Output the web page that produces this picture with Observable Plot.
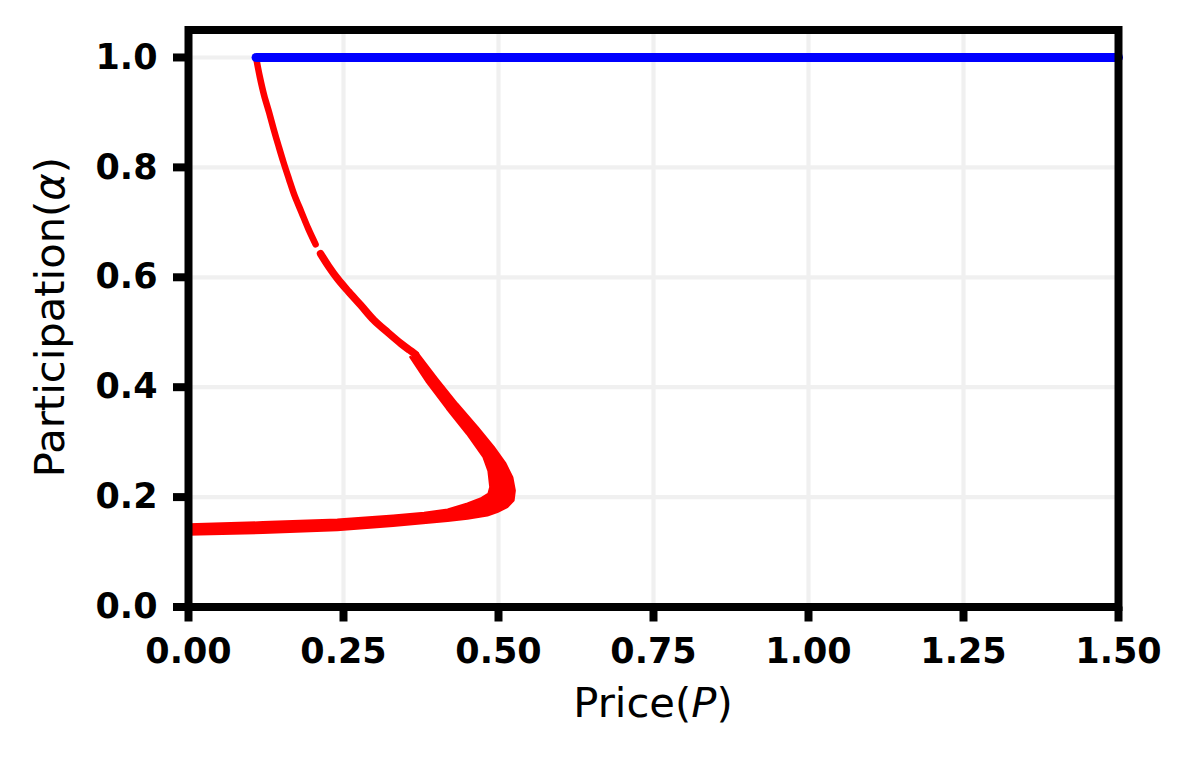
<!DOCTYPE html>
<html><head><meta charset="utf-8">
<script src="https://cdn.jsdelivr.net/npm/d3@7"></script>
<script src="https://cdn.jsdelivr.net/npm/@observablehq/plot@0.6"></script>
<style>
html,body{margin:0;padding:0;background:#fff;}
svg text{font-family:"DejaVu Sans",sans-serif;}
g[aria-label="x-axis tick label"] text, g[aria-label="y-axis tick label"] text{font-weight:bold;}
</style></head><body><div id="chart"></div>
<script>
// ---- data ----
const xTicks = [0, 0.25, 0.5, 0.75, 1.0, 1.25, 1.5];
const yTicks = [0, 0.2, 0.4, 0.6, 0.8, 1.0];
const xLabelParts = [["Price(", false], ["P", true], [")", false]];
const yLabelParts = [["Participation(", false], ["α", true], [")", false]];

// red branch, upper thin part (before the small gap)
const redTopX = [0.109, 0.115, 0.122, 0.130, 0.137, 0.145, 0.153, 0.162, 0.171, 0.182, 0.193, 0.205];
const redTopY = [1.000, 0.965, 0.931, 0.900, 0.871, 0.840, 0.810, 0.779, 0.749, 0.719, 0.689, 0.660];
// red branch, after the gap down to the kink
const redMidX = [0.213, 0.226, 0.240, 0.258, 0.278, 0.299, 0.322, 0.343, 0.356, 0.366];
const redMidY = [0.643, 0.620, 0.598, 0.574, 0.549, 0.522, 0.499, 0.479, 0.468, 0.460];
// red thick band: outer edge (kink -> nose -> lower edge of bottom branch)
const bandOuterX = [0.369, 0.401, 0.433, 0.466, 0.492, 0.511, 0.522, 0.526, 0.524, 0.514, 0.498, 0.482, 0.450, 0.418, 0.330, 0.240, 0.120, 0.000];
const bandOuterY = [0.462, 0.415, 0.370, 0.327, 0.291, 0.261, 0.236, 0.212, 0.194, 0.182, 0.173, 0.167, 0.161, 0.157, 0.148, 0.140, 0.135, 0.132];
// red thick band: inner edge (kink -> inner nose -> upper edge of bottom branch)
const bandInnerX = [0.358, 0.385, 0.417, 0.4495, 0.476, 0.484, 0.487, 0.484, 0.471, 0.450, 0.418, 0.380, 0.330, 0.240, 0.120, 0.000];
const bandInnerY = [0.455, 0.409, 0.361, 0.315, 0.273, 0.248, 0.218, 0.206, 0.197, 0.188, 0.177, 0.171, 0.166, 0.159, 0.154, 0.150];
// blue branch (full participation)
const blueX = [0.109, 1.5];
const blueY = [1.0, 1.0];

// ---- build tables ----
const pts = (xs, ys) => xs.map((x, i) => ({x, y: ys[i]}));
const redTop = pts(redTopX, redTopY);
const redMid = pts(redMidX, redMidY);
const band = pts(bandOuterX, bandOuterY).concat(pts(bandInnerX, bandInnerY).reverse());
const blue = pts(blueX, blueY);

const svg = Plot.plot({
  width: 1194,
  height: 761,
  marginLeft: 188,
  marginRight: 76,
  marginTop: 29.5,
  marginBottom: 154.5,
  style: {background: "white", color: "black", fontFamily: "DejaVu Sans"},
  x: {domain: [0, 1.5]},
  y: {domain: [0, 1.05]},
  marks: [
    Plot.gridX(xTicks, {stroke: "#f0f0f0", strokeOpacity: 1, strokeWidth: 4.2}),
    Plot.gridY(yTicks, {stroke: "#f0f0f0", strokeOpacity: 1, strokeWidth: 4.2}),
    Plot.line(band, {x: "x", y: "y", fill: "#ff0000", stroke: "#ff0000", strokeWidth: 2.5, strokeLinejoin: "round", curve: "linear"}),
    Plot.line(redTop, {x: "x", y: "y", stroke: "#ff0000", strokeWidth: 6.5, strokeLinecap: "round", curve: "catmull-rom"}),
    Plot.line(redMid, {x: "x", y: "y", stroke: "#ff0000", strokeWidth: 7.5, strokeLinecap: "round", curve: "catmull-rom"}),
    Plot.line(blue, {x: "x", y: "y", stroke: "#0000ff", strokeWidth: 9, strokeLinecap: "round"}),
    Plot.frame({stroke: "black", strokeWidth: 8}),
    Plot.axisX({ticks: xTicks, tickFormat: d3.format(".2f"), tickSize: 15, tickPadding: 16, strokeWidth: 8, fontSize: 35, fontWeight: "bold", label: null}),
    Plot.axisY({ticks: yTicks, tickFormat: d3.format(".1f"), tickSize: 15, tickPadding: 16, strokeWidth: 8, fontSize: 35, fontWeight: "bold", label: null})
  ]
});

const s = d3.select(svg);
const xl = s.append("text")
  .attr("x", 653).attr("y", 717)
  .attr("text-anchor", "middle")
  .attr("font-size", 41.7)
  .attr("fill", "black");
xLabelParts.forEach(([t, it]) => xl.append("tspan").attr("font-style", it ? "italic" : "normal").text(t));

const yl = s.append("text")
  .attr("transform", "translate(64,317) rotate(-90)")
  .attr("text-anchor", "middle")
  .attr("font-size", 41.7)
  .attr("fill", "black");
yLabelParts.forEach(([t, it]) => yl.append("tspan").attr("font-style", it ? "italic" : "normal").text(t));

document.getElementById("chart").appendChild(svg);
</script>
</body></html>
